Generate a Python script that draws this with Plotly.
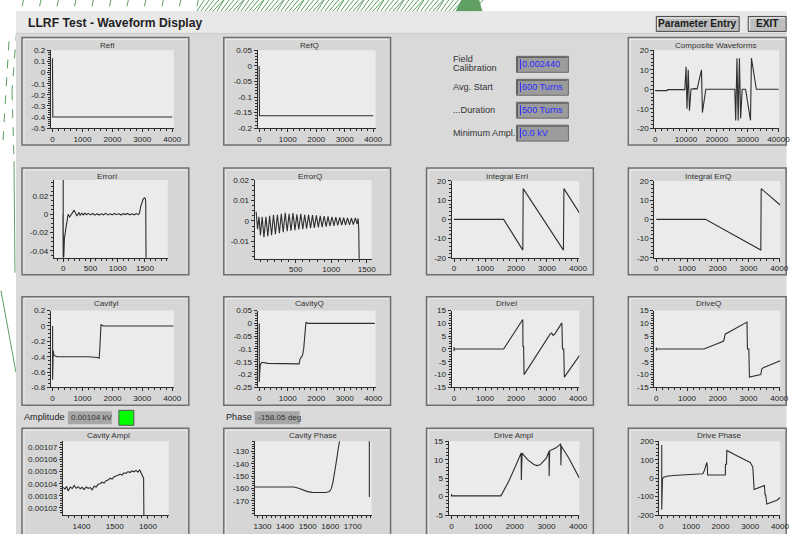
import plotly.graph_objects as go

W, H = 798, 534
S = 0.986          # the photographed page comes back shrunk by this factor; compensate
DY = 2.5           # and shifted down by about this much
FONT = "Liberation Sans, Arial, Helvetica, sans-serif"
INK = "#2e2e2e"
GREEN = "#5f9f62"
PANEL_BG = "#d9d9d9"

# ------------------------------------------------------------------ data
REFI_X = [0, 0, 12, 4000]
REFI_Y = [0.13, -0.39, -0.40, -0.40]

REFQ_X = [0, 0, 12, 4000]
REFQ_Y = [0.0, -0.155, -0.16, -0.16]

COMP_X = [0, 3800, 4000, 9600, 10000, 10300, 10700, 11100, 11600, 12600, 13600, 15000,
          15300, 16400, 25800, 26100, 26500, 26900, 27300, 27700, 28200, 29300, 30900,
          31200, 32800, 40000]
COMP_Y = [-0.7, -0.7, -0.2, -0.2, 11.5, -10, 10, -11, 0, 0.3, 0.2, 10, -12, 0, 0,
          -16, 16, -16, 16, -15, 0, 0, -16, 16, 0, 0]

ERRI_X = [0, 0, -5, 10, 22, 50, 90, 118, 145, 174, 200, 215, 232, 250, 270, 290, 310, 342,
          370, 400, 430, 460, 500, 540, 580, 620, 660, 700, 740, 780, 820, 860, 900, 940,
          980, 1020, 1060, 1100, 1140, 1180, 1220, 1260, 1300, 1340, 1380, 1400, 1420,
          1440, 1465, 1490, 1510, 1515, 1520]
ERRI_Y = [0.04, -0.048, 0.0, -0.047, -0.027, -0.015, 0.0, -0.003, -0.001, 0.002, 0.0045,
          0.003, 0.001, -0.002, 0.0, 0.002, -0.001, 0.001, -0.0008, 0.0012, -0.0006,
          0.0009, -0.0007, 0.0008, -0.001, 0.0006, -0.0009, 0.0005, -0.0006, 0.0009,
          -0.0008, 0.0004, -0.0007, 0.0008, -0.0005, 0.0007, -0.0009, 0.0006, -0.0004,
          0.0008, -0.0007, 0.0005, -0.0006, 0.0007, -0.0004, 0.001, 0.008, 0.013, 0.016,
          0.018, 0.017, 0.01, -0.05]

ERRQ_X = [-60, -40, -20, 0, 25, 50, 78, 105, 130, 158, 185, 212, 240, 268, 295, 322, 350,
          378, 405, 432, 460, 488, 515, 542, 570, 598, 625, 652, 680, 708, 735, 762, 790,
          818, 845, 872, 900, 928, 955, 982, 1010, 1038, 1065, 1092, 1120, 1148, 1175,
          1202, 1230, 1258, 1285, 1312, 1340, 1365, 1380, 1388, 1395]
ERRQ_Y = [0.0045, -0.004, 0.002, -0.007, 0.002, -0.008, 0.002, -0.0075, 0.0025, -0.007,
          0.003, -0.0065, 0.003, -0.006, 0.0035, -0.0055, 0.004, -0.005, 0.0035, -0.0048,
          0.0038, -0.0045, 0.0032, -0.0042, 0.0035, -0.004, 0.003, -0.0038, 0.003,
          -0.0035, 0.0028, -0.0034, 0.0027, -0.0032, 0.0025, -0.003, 0.0024, -0.0028,
          0.0022, -0.0026, 0.002, -0.0024, 0.0018, -0.0022, 0.0017, -0.002, 0.0016,
          -0.002, 0.0015, -0.0019, 0.0014, -0.0018, 0.0015, -0.0015, 0.0012, -0.004,
          -0.02]

IERRI_X = [0, 1600, 2220, 2232, 3530, 3545, 4040]
IERRI_Y = [0, 0, -16, 16, -16, 16, 3.5]

IERRQ_X = [0, 1600, 3400, 3412, 4030]
IERRQ_Y = [0, 0, -16, 16, 7.5]

CAVI_X = [5, 5, 12, 25, 45, 80, 150, 300, 600, 900, 1200, 1500, 1560, 1580, 1600, 1620,
          1650, 1700, 2000, 3000, 4040]
CAVI_Y = [0.0, -0.7, -0.25, -0.32, -0.38, -0.39, -0.40, -0.40, -0.40, -0.40, -0.40,
          -0.41, -0.42, -0.30, -0.10, 0.02, 0.01, 0.0, 0.0, 0.0, 0.0]

CAVQ_X = [5, 5, 15, 40, 100, 300, 600, 1000, 1400, 1430, 1480, 1520, 1560, 1600, 1640,
          1700, 2000, 3000, 4050]
CAVQ_Y = [0.0, -0.23, -0.20, -0.16, -0.152, -0.156, -0.157, -0.158, -0.158, -0.14,
          -0.132, -0.125, -0.10, -0.04, 0.005, 0.0, 0.0, 0.0, 0.0]

DRVI_X = [0, 0, 10, 1600, 2220, 2225, 2245, 2260, 3100, 3150, 3200, 3250, 3480, 3500,
          3540, 3560, 4050]
DRVI_Y = [0.8, -0.8, 0, 0, 11.5, 1, 1, -10, 5.8, 6.2, 5.3, 5.8, 10.2, 0, 0, -11, -2.5]

DRVQ_X = [0, 0, 10, 1550, 2180, 2200, 2240, 2950, 2965, 3010, 3030, 3400, 3430, 3480, 4050]
DRVQ_Y = [0.6, -0.6, 0, 0, 3, 3.5, 5.8, 10.5, 0, 0, -11, -10, -7.8, -7.3, -4.5]

CAMP_X = [1345, 1350, 1355, 1360, 1366, 1372, 1378, 1384, 1390, 1396, 1402, 1408, 1414,
          1420, 1426, 1432, 1438, 1444, 1450, 1456, 1462, 1468, 1474, 1480, 1486, 1492,
          1498, 1504, 1510, 1516, 1522, 1528, 1534, 1540, 1546, 1552, 1558, 1564, 1570,
          1575, 1580, 1584, 1587, 1588]
CAMP_Y = [0.0010370, 0.0010355, 0.0010378, 0.0010340, 0.0010372, 0.0010360, 0.0010385,
          0.0010362, 0.0010375, 0.0010358, 0.0010370, 0.0010352, 0.0010373, 0.0010362,
          0.0010368, 0.0010350, 0.0010380, 0.0010372, 0.0010395, 0.0010400, 0.0010412,
          0.0010405, 0.0010425, 0.0010430, 0.0010445, 0.0010438, 0.0010458, 0.0010462,
          0.0010470, 0.0010480, 0.0010472, 0.0010490, 0.0010485, 0.0010500, 0.0010492,
          0.0010505, 0.0010498, 0.0010510, 0.0010495, 0.0010515, 0.0010490, 0.0010460,
          0.0010445, 0.0010100]

CPH_X = [1266, 1300, 1350, 1400, 1440, 1460, 1480, 1500, 1520, 1550, 1580, 1597, 1605,
         1612, 1620, 1628, 1636, 1645, None, 1773, 1773]
CPH_Y = [-158.8, -158.9, -158.7, -158.8, -158.8, -159.8, -161.5, -162.6, -163.2, -163.4,
         -163.3, -162.5, -160, -155, -147, -137, -127, -118, None, -118, -167]

DAMP_X = [0, 0, 10, 1560, 1800, 2000, 2200, 2205, 2215, 2230, 2400, 2600, 2700, 2800,
          3000, 3080, 3085, 3095, 3100, 3300, 3450, 3455, 3470, 3480, 3700, 3900, 4040]
DAMP_Y = [0.7, 0.2, 0.2, 0.2, 4, 7.8, 11.8, 4.5, 11.5, 11.8, 10, 8.7, 8.4, 8.6, 10.5,
          12.2, 5.5, 12.0, 12.4, 13.2, 14.3, 8.5, 13.8, 13.5, 10.5, 7.5, 5.0]

DPH_X = [15, 15, 20, 40, 80, 190, 400, 750, 1000, 1313, 1400, 1450, 1500, 1537, 1555,
         1560, 2160, 2165, 2200, 2210, 2500, 2800, 3000, 3086, 3090, 3110, 3131, 3300,
         3479, 3500, 3520, 3558, 3700, 3900, 4007]
DPH_Y = [180, -170, -20, -5, 5, 10, 14, 17, 19, 22, 24, 40, 70, 85, 60, 17, 17, 75, 75,
         150, 125, 100, 85, 60, 0, -5, -62, -52, -40, -90, -90, -140, -130, -120, -105]

# tick label values
X4K = [0, 1000, 2000, 3000, 4000]
X40K = [0, 10000, 20000, 30000, 40000]
X1500 = [0, 500, 1000, 1500]
X1500B = [500, 1000, 1500]
X_CA = [1400, 1500, 1600]
X_CP = [1300, 1400, 1500, 1600, 1700]
Y_REFI = [-0.5, -0.4, -0.3, -0.2, -0.1, 0, 0.1, 0.2]
Y_REFQ = [-0.2, -0.15, -0.1, -0.05, 0, 0.05]
Y_20 = [-20, -10, 0, 10, 20]
Y_ERRI = [-0.04, -0.02, 0, 0.02]
Y_ERRQ = [-0.01, 0, 0.01, 0.02]
Y_CAVI = [-0.8, -0.6, -0.4, -0.2, 0, 0.2]
Y_CAVQ = [-0.25, -0.2, -0.15, -0.1, -0.05, 0, 0.05]
Y_15 = [-15, -10, -5, 0, 5, 10, 15]
Y_CA = [0.00102, 0.00103, 0.00104, 0.00105, 0.00106, 0.00107]
Y_CP = [-170, -160, -150, -140, -130]
Y_DA = [-5, 0, 5, 10, 15]
Y_DP = [-200, -100, 0, 100, 200]


def fx(x):
    return min(x / S, 797.5) / W


def fy(y):
    return 1 - ((y - DY) / S) / H


def fs(size):
    return round(size / S, 2)


# panel: title, box(px), plot(px), title pos, x, y, xrange, yrange, xt, yt, xminor, yminor, yfmt
PANELS = [
    ("RefI", (21, 36, 188, 144), (50, 49, 173, 127), (107, 44), REFI_X, REFI_Y,
     [-50, 4050], [-0.5, 0.2], X4K, Y_REFI, 200, 0.02, "{:g}"),
    ("RefQ", (223, 36, 390, 144), (257, 49, 375, 127), (309, 44), REFQ_X, REFQ_Y,
     [-50, 4080], [-0.2, 0.05], X4K, Y_REFQ, 200, 0.01, "{:g}"),
    ("Composite Waveforms", (628, 36, 786, 144), (654, 49, 779, 127), (716, 44), COMP_X,
     COMP_Y, [-300, 40200], [-20, 20], X40K, Y_20, 2000, 2, "{:g}"),
    ("ErrorI", (21, 167, 188, 274), (53, 179, 167, 257), (106, 176), ERRI_X, ERRI_Y,
     [-170, 1920], [-0.0477, 0.0375], X1500, Y_ERRI, 100, 0.005, "{:g}"),
    ("ErrorQ", (223, 167, 390, 274), (254, 179, 371, 258), (309, 176), ERRQ_X, ERRQ_Y,
     [-80, 1570], [-0.0185, 0.02], X1500B, Y_ERRQ, 100, 0.0025, "{:g}"),
    ("Integral ErrI", (426, 167, 593, 274), (451, 180, 579, 257), (507, 176), IERRI_X,
     IERRI_Y, [-80, 4045], [-20, 20], X4K, Y_20, 200, 2, "{:g}"),
    ("Integral ErrQ", (628, 167, 786, 274), (654, 180, 780, 257), (708, 176), IERRQ_X,
     IERRQ_Y, [-65, 4030], [-20, 20], X4K, Y_20, 200, 2, "{:g}"),
    ("CavityI", (21, 296, 188, 405), (50, 310, 173, 387), (106, 303), CAVI_X, CAVI_Y,
     [-50, 4050], [-0.8, 0.2], X4K, Y_CAVI, 200, 0.05, "{:g}"),
    ("CavityQ", (223, 296, 390, 405), (257, 310, 375, 387), (309, 303), CAVQ_X, CAVQ_Y,
     [-50, 4080], [-0.25, 0.05], X4K, Y_CAVQ, 200, 0.01, "{:g}"),
    ("DriveI", (426, 296, 593, 405), (451, 310, 579, 387), (506, 303), DRVI_X, DRVI_Y,
     [-80, 4045], [-15, 15], X4K, Y_15, 200, 1, "{:g}"),
    ("DriveQ", (628, 296, 786, 405), (654, 310, 780, 387), (708, 303), DRVQ_X, DRVQ_Y,
     [-65, 4030], [-15, 15], X4K, Y_15, 200, 1, "{:g}"),
    ("Cavity Ampl", (21, 428, 188, 545), (62, 441, 168, 515), (108, 435), CAMP_X, CAMP_Y,
     [1344, 1663], [0.0010142, 0.001075], X_CA, Y_CA, 20, 0.000002, "{:.5f}"),
    ("Cavity Phase", (223, 428, 390, 545), (254, 441, 371, 515), (312, 435), CPH_X, CPH_Y,
     [1266, 1783], [-181.6, -121.7], X_CP, Y_CP, 20, 2, "{:g}"),
    ("Drive Ampl", (426, 428, 593, 545), (448, 441, 579, 515), (513, 435), DAMP_X, DAMP_Y,
     [-95, 4040], [-5, 15], X4K, Y_DA, 200, 1, "{:g}"),
    ("Drive Phase", (628, 428, 786, 545), (659, 441, 780, 515), (719, 435), DPH_X, DPH_Y,
     [-67, 4010], [-200, 200], X4K, Y_DP, 200, 20, "{:g}"),
]

shapes = []
annotations = []


def rect(x0, y0, x1, y1, fill, line=None, lw=1, layer="below"):
    shapes.append(dict(type="rect", xref="paper", yref="paper", x0=fx(x0), x1=fx(x1),
                       y0=fy(y1), y1=fy(y0), fillcolor=fill, layer=layer,
                       line=dict(color=line or "rgba(0,0,0,0)", width=lw if line else 0)))


def seg(x0, y0, x1, y1, color, width=1, dash="solid", layer="below"):
    shapes.append(dict(type="line", xref="paper", yref="paper", x0=fx(x0), x1=fx(x1),
                       y0=fy(y0), y1=fy(y1), layer=layer,
                       line=dict(color=color, width=width, dash=dash)))


def text(x, y, s, size=9, color="#333", anchor="left", bold=False):
    annotations.append(dict(x=fx(x), y=fy(y), xref="paper", yref="paper", text=s,
                            showarrow=False, xanchor=anchor, yanchor="middle",
                            font=dict(family=FONT, size=fs(size), color=color,
                                      weight="bold" if bold else "normal")))


# ---------------- decoration (white margin with green strokes)
for k in range(11):
    x = 21 + k * 17.5
    seg(x + 2, -4, x - 1, 10, GREEN, 1, "dash")
for k in range(70):
    x = 196 + k * 4
    seg(x, 10, x + 9 + (k % 5), -4, GREEN, 1)
shapes.append(dict(type="path", xref="paper", yref="paper", layer="below",
                   path=f"M {fx(455)} {fy(10)} L {fx(482)} {fy(10)} L {fx(478)} {fy(-4)} "
                        f"L {fx(462)} {fy(-4)} Z",
                   fillcolor=GREEN, line=dict(width=0)))
seg(17, 12, 11, 90, GREEN, 1, "dash")
seg(11, 90, 13, 160, GREEN, 1, "dash")
seg(13, 160, 14, 272, GREEN, 1)
seg(0, 290, 15, 372, GREEN, 1)
seg(8, 40, 2, 140, GREEN, 1, "dash")

# ---------------- main panel
rect(15, 10, 800, 545, PANEL_BG)
rect(15, 10, 800, 32, "#e8e8e8")
seg(15, 32, 800, 32, "#c8c8c8", 1)
text(25, 22, "LLRF Test - Waveform Display", 12, "#1e1e1e", bold=True)

# buttons
for (x0, x1, label) in [(656, 739, "Parameter Entry"), (748, 786, "EXIT")]:
    rect(x0, 15, x1, 30, "#bdbdbd", "#4a4a4a", 1)
    seg(x0 + 1.5, 16.5, x1 - 1.5, 16.5, "#f2f2f2", 1)
    seg(x0 + 1.5, 16.5, x0 + 1.5, 28.5, "#f2f2f2", 1)
    text((x0 + x1) / 2, 22.5, label, 10, "#1a1a1a", "center", True)

# parameter fields
text(450, 58, "Field", 9, "#333")
text(450, 67, "Calibration", 9, "#333")
text(450, 86, "Avg. Start", 9, "#333")
text(450, 109, "...Duration", 9, "#333")
text(450, 132, "Minimum Ampl.", 9, "#333")
for (y0, val) in [(55, "0.002440"), (78, "600 Turns"), (101, "500 Turns"), (124, "0.0 kV")]:
    rect(516, y0, 568, y0 + 16, "#9c9c9c", "#6a6a6a", 1)
    seg(517, y0 + 1, 567, y0 + 1, "#5a5a5a", 1)
    seg(517, y0 + 1, 517, y0 + 15, "#5a5a5a", 1)
    seg(520, y0 + 3, 520, y0 + 13, "#2a2aff", 1)
    text(520, y0 + 8, val, 9, "#2a2aff")

# amplitude / phase readouts
text(21, 417, "Amplitude", 9, "#222")
rect(67, 411, 111, 424, "#a6a6a6")
text(68, 417.5, "0.00104 kV", 8, "#333")
rect(118, 410, 133, 425, "#00ff00", "#555555", 1)
text(223, 417, "Phase", 9, "#222")
rect(254, 411, 299, 424, "#a6a6a6")
text(255, 417.5, "-158.05 deg", 8, "#333")

# ---------------- waveform panels
fig = go.Figure()
layout_axes = {}
tfont = dict(family=FONT, size=fs(8), color="#222")
for i, (title, box, plot, tpos, xs, ys, xr, yr, xt, yt, xm, ym, yfmt) in enumerate(PANELS):
    n = i + 1
    rect(box[0], box[1], box[2], box[3], "#d6d6d6", "#707070", 1.5)
    seg(box[0] + 2, box[1] + 2, box[2] - 2, box[1] + 2, "#ececec", 1)
    seg(box[0] + 2, box[1] + 2, box[0] + 2, box[3] - 2, "#ececec", 1)
    rect(plot[0], plot[1], plot[2], plot[3], "#ebebeb")
    text(tpos[0], tpos[1], title, 8, "#333", "center")
    xa = "xaxis" if n == 1 else f"xaxis{n}"
    ya = "yaxis" if n == 1 else f"yaxis{n}"
    common = dict(showline=True, linecolor=INK, linewidth=1, ticks="outside", ticklen=3,
                  tickwidth=1, tickcolor=INK, tickfont=tfont, showgrid=False,
                  zeroline=False, fixedrange=True, tickmode="array")
    layout_axes[xa] = dict(common, domain=[fx(plot[0]), fx(plot[2])], range=xr,
                           anchor=f"y{n}" if n > 1 else "y", tickvals=xt,
                           ticktext=["{:g}".format(v) for v in xt],
                           minor=dict(tickmode="linear", tick0=0, dtick=xm, ticks="outside",
                                      ticklen=2, tickcolor=INK, tickwidth=1))
    layout_axes[ya] = dict(common, domain=[fy(plot[3]), fy(plot[1])], range=yr,
                           anchor=f"x{n}" if n > 1 else "x", tickvals=yt,
                           ticktext=[yfmt.format(v) for v in yt],
                           minor=dict(tickmode="linear", tick0=0, dtick=ym, ticks="outside",
                                      ticklen=2, tickcolor=INK, tickwidth=1))
    fig.add_trace(go.Scatter(x=xs, y=ys, mode="lines", connectgaps=False,
                             line=dict(color=INK, width=1.1), showlegend=False,
                             hoverinfo="skip",
                             xaxis=f"x{n}" if n > 1 else "x",
                             yaxis=f"y{n}" if n > 1 else "y"))

fig.update_layout(width=W, height=H, autosize=False,
                  margin=dict(l=0, r=0, t=0, b=0),
                  paper_bgcolor="#ffffff", plot_bgcolor="rgba(0,0,0,0)",
                  shapes=shapes, annotations=annotations, showlegend=False,
                  font=dict(family=FONT), **layout_axes)

PAGE_FIX = ("document.body.style.margin='0';document.body.style.padding='0';"
            "document.body.style.overflow='hidden';"
            "document.body.style.background='" + PANEL_BG + "';")

fig.write_html("out.html", config={"displayModeBar": False, "staticPlot": True},
               post_script=PAGE_FIX)
